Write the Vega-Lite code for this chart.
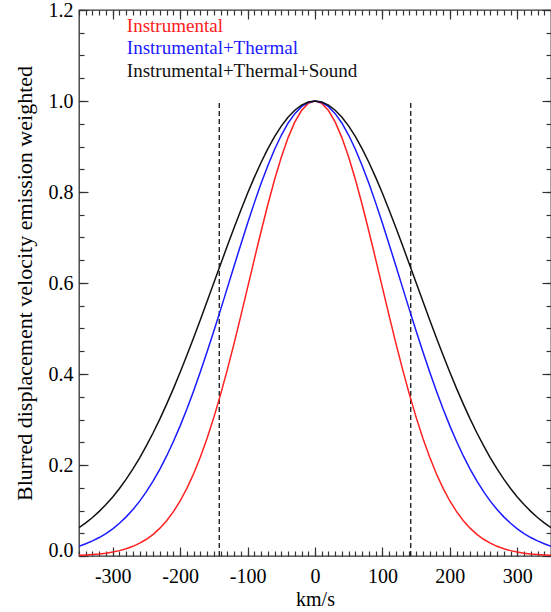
{
  "$schema": "https://vega.github.io/schema/vega-lite/v6.json",
  "width": 472,
  "height": 546,
  "autosize": {"type": "none"},
  "padding": {"left": 79, "top": 10, "right": 0, "bottom": 56},
  "background": "white",
  "config": {
    "view": {"stroke": "#333333", "strokeWidth": 1.3},
    "font": "Liberation Serif",
    "style": {"guide-label": {"font": "Liberation Serif"}, "guide-title": {"font": "Liberation Serif"}},
    "axis": {"grid": false, "domain": false, "labelFont": "Liberation Serif", "labelFontSize": 20, "labelColor": "black", "titleFont": "Liberation Serif", "titleFontWeight": "normal", "titleColor": "black", "tickColor": "#333333", "tickWidth": 1.2}
  },
  "datasets": {
    "curves": [
      {"kms": -350, "val": 0.0015, "series": "Instrumental"},
      {"kms": -340, "val": 0.0022, "series": "Instrumental"},
      {"kms": -330, "val": 0.0032, "series": "Instrumental"},
      {"kms": -320, "val": 0.0045, "series": "Instrumental"},
      {"kms": -310, "val": 0.0062, "series": "Instrumental"},
      {"kms": -300, "val": 0.0086, "series": "Instrumental"},
      {"kms": -290, "val": 0.0118, "series": "Instrumental"},
      {"kms": -280, "val": 0.0159, "series": "Instrumental"},
      {"kms": -270, "val": 0.0213, "series": "Instrumental"},
      {"kms": -260, "val": 0.0282, "series": "Instrumental"},
      {"kms": -250, "val": 0.0368, "series": "Instrumental"},
      {"kms": -240, "val": 0.0477, "series": "Instrumental"},
      {"kms": -230, "val": 0.0612, "series": "Instrumental"},
      {"kms": -220, "val": 0.0776, "series": "Instrumental"},
      {"kms": -210, "val": 0.0974, "series": "Instrumental"},
      {"kms": -200, "val": 0.1209, "series": "Instrumental"},
      {"kms": -190, "val": 0.1486, "series": "Instrumental"},
      {"kms": -180, "val": 0.1806, "series": "Instrumental"},
      {"kms": -170, "val": 0.2174, "series": "Instrumental"},
      {"kms": -160, "val": 0.2587, "series": "Instrumental"},
      {"kms": -150, "val": 0.3047, "series": "Instrumental"},
      {"kms": -140, "val": 0.3552, "series": "Instrumental"},
      {"kms": -130, "val": 0.4096, "series": "Instrumental"},
      {"kms": -120, "val": 0.4674, "series": "Instrumental"},
      {"kms": -110, "val": 0.5278, "series": "Instrumental"},
      {"kms": -100, "val": 0.5897, "series": "Instrumental"},
      {"kms": -90, "val": 0.6520, "series": "Instrumental"},
      {"kms": -80, "val": 0.7132, "series": "Instrumental"},
      {"kms": -70, "val": 0.7720, "series": "Instrumental"},
      {"kms": -60, "val": 0.8269, "series": "Instrumental"},
      {"kms": -50, "val": 0.8763, "series": "Instrumental"},
      {"kms": -40, "val": 0.9190, "series": "Instrumental"},
      {"kms": -30, "val": 0.9536, "series": "Instrumental"},
      {"kms": -20, "val": 0.9791, "series": "Instrumental"},
      {"kms": -10, "val": 0.9947, "series": "Instrumental"},
      {"kms": 0, "val": 1.0, "series": "Instrumental"},
      {"kms": 10, "val": 0.9947, "series": "Instrumental"},
      {"kms": 20, "val": 0.9791, "series": "Instrumental"},
      {"kms": 30, "val": 0.9536, "series": "Instrumental"},
      {"kms": 40, "val": 0.9190, "series": "Instrumental"},
      {"kms": 50, "val": 0.8763, "series": "Instrumental"},
      {"kms": 60, "val": 0.8269, "series": "Instrumental"},
      {"kms": 70, "val": 0.7720, "series": "Instrumental"},
      {"kms": 80, "val": 0.7132, "series": "Instrumental"},
      {"kms": 90, "val": 0.6520, "series": "Instrumental"},
      {"kms": 100, "val": 0.5897, "series": "Instrumental"},
      {"kms": 110, "val": 0.5278, "series": "Instrumental"},
      {"kms": 120, "val": 0.4674, "series": "Instrumental"},
      {"kms": 130, "val": 0.4096, "series": "Instrumental"},
      {"kms": 140, "val": 0.3552, "series": "Instrumental"},
      {"kms": 150, "val": 0.3047, "series": "Instrumental"},
      {"kms": 160, "val": 0.2587, "series": "Instrumental"},
      {"kms": 170, "val": 0.2174, "series": "Instrumental"},
      {"kms": 180, "val": 0.1806, "series": "Instrumental"},
      {"kms": 190, "val": 0.1486, "series": "Instrumental"},
      {"kms": 200, "val": 0.1209, "series": "Instrumental"},
      {"kms": 210, "val": 0.0974, "series": "Instrumental"},
      {"kms": 220, "val": 0.0776, "series": "Instrumental"},
      {"kms": 230, "val": 0.0612, "series": "Instrumental"},
      {"kms": 240, "val": 0.0477, "series": "Instrumental"},
      {"kms": 250, "val": 0.0368, "series": "Instrumental"},
      {"kms": 260, "val": 0.0282, "series": "Instrumental"},
      {"kms": 270, "val": 0.0213, "series": "Instrumental"},
      {"kms": 280, "val": 0.0159, "series": "Instrumental"},
      {"kms": 290, "val": 0.0118, "series": "Instrumental"},
      {"kms": 300, "val": 0.0086, "series": "Instrumental"},
      {"kms": 310, "val": 0.0062, "series": "Instrumental"},
      {"kms": 320, "val": 0.0045, "series": "Instrumental"},
      {"kms": 330, "val": 0.0032, "series": "Instrumental"},
      {"kms": 340, "val": 0.0022, "series": "Instrumental"},
      {"kms": 350, "val": 0.0015, "series": "Instrumental"},
      {"kms": -350, "val": 0.0216, "series": "Instrumental+Thermal"},
      {"kms": -340, "val": 0.0268, "series": "Instrumental+Thermal"},
      {"kms": -330, "val": 0.0331, "series": "Instrumental+Thermal"},
      {"kms": -320, "val": 0.0406, "series": "Instrumental+Thermal"},
      {"kms": -310, "val": 0.0494, "series": "Instrumental+Thermal"},
      {"kms": -300, "val": 0.0598, "series": "Instrumental+Thermal"},
      {"kms": -290, "val": 0.0719, "series": "Instrumental+Thermal"},
      {"kms": -280, "val": 0.0860, "series": "Instrumental+Thermal"},
      {"kms": -270, "val": 0.1021, "series": "Instrumental+Thermal"},
      {"kms": -260, "val": 0.1206, "series": "Instrumental+Thermal"},
      {"kms": -250, "val": 0.1414, "series": "Instrumental+Thermal"},
      {"kms": -240, "val": 0.1649, "series": "Instrumental+Thermal"},
      {"kms": -230, "val": 0.1910, "series": "Instrumental+Thermal"},
      {"kms": -220, "val": 0.2199, "series": "Instrumental+Thermal"},
      {"kms": -210, "val": 0.2516, "series": "Instrumental+Thermal"},
      {"kms": -200, "val": 0.2860, "series": "Instrumental+Thermal"},
      {"kms": -190, "val": 0.3231, "series": "Instrumental+Thermal"},
      {"kms": -180, "val": 0.3628, "series": "Instrumental+Thermal"},
      {"kms": -170, "val": 0.4048, "series": "Instrumental+Thermal"},
      {"kms": -160, "val": 0.4488, "series": "Instrumental+Thermal"},
      {"kms": -150, "val": 0.4945, "series": "Instrumental+Thermal"},
      {"kms": -140, "val": 0.5415, "series": "Instrumental+Thermal"},
      {"kms": -130, "val": 0.5893, "series": "Instrumental+Thermal"},
      {"kms": -120, "val": 0.6372, "series": "Instrumental+Thermal"},
      {"kms": -110, "val": 0.6848, "series": "Instrumental+Thermal"},
      {"kms": -100, "val": 0.7313, "series": "Instrumental+Thermal"},
      {"kms": -90, "val": 0.7761, "series": "Instrumental+Thermal"},
      {"kms": -80, "val": 0.8185, "series": "Instrumental+Thermal"},
      {"kms": -70, "val": 0.8578, "series": "Instrumental+Thermal"},
      {"kms": -60, "val": 0.8935, "series": "Instrumental+Thermal"},
      {"kms": -50, "val": 0.9247, "series": "Instrumental+Thermal"},
      {"kms": -40, "val": 0.9512, "series": "Instrumental+Thermal"},
      {"kms": -30, "val": 0.9722, "series": "Instrumental+Thermal"},
      {"kms": -20, "val": 0.9876, "series": "Instrumental+Thermal"},
      {"kms": -10, "val": 0.9969, "series": "Instrumental+Thermal"},
      {"kms": 0, "val": 1.0, "series": "Instrumental+Thermal"},
      {"kms": 10, "val": 0.9969, "series": "Instrumental+Thermal"},
      {"kms": 20, "val": 0.9876, "series": "Instrumental+Thermal"},
      {"kms": 30, "val": 0.9722, "series": "Instrumental+Thermal"},
      {"kms": 40, "val": 0.9512, "series": "Instrumental+Thermal"},
      {"kms": 50, "val": 0.9247, "series": "Instrumental+Thermal"},
      {"kms": 60, "val": 0.8935, "series": "Instrumental+Thermal"},
      {"kms": 70, "val": 0.8578, "series": "Instrumental+Thermal"},
      {"kms": 80, "val": 0.8185, "series": "Instrumental+Thermal"},
      {"kms": 90, "val": 0.7761, "series": "Instrumental+Thermal"},
      {"kms": 100, "val": 0.7313, "series": "Instrumental+Thermal"},
      {"kms": 110, "val": 0.6848, "series": "Instrumental+Thermal"},
      {"kms": 120, "val": 0.6372, "series": "Instrumental+Thermal"},
      {"kms": 130, "val": 0.5893, "series": "Instrumental+Thermal"},
      {"kms": 140, "val": 0.5415, "series": "Instrumental+Thermal"},
      {"kms": 150, "val": 0.4945, "series": "Instrumental+Thermal"},
      {"kms": 160, "val": 0.4488, "series": "Instrumental+Thermal"},
      {"kms": 170, "val": 0.4048, "series": "Instrumental+Thermal"},
      {"kms": 180, "val": 0.3628, "series": "Instrumental+Thermal"},
      {"kms": 190, "val": 0.3231, "series": "Instrumental+Thermal"},
      {"kms": 200, "val": 0.2860, "series": "Instrumental+Thermal"},
      {"kms": 210, "val": 0.2516, "series": "Instrumental+Thermal"},
      {"kms": 220, "val": 0.2199, "series": "Instrumental+Thermal"},
      {"kms": 230, "val": 0.1910, "series": "Instrumental+Thermal"},
      {"kms": 240, "val": 0.1649, "series": "Instrumental+Thermal"},
      {"kms": 250, "val": 0.1414, "series": "Instrumental+Thermal"},
      {"kms": 260, "val": 0.1206, "series": "Instrumental+Thermal"},
      {"kms": 270, "val": 0.1021, "series": "Instrumental+Thermal"},
      {"kms": 280, "val": 0.0860, "series": "Instrumental+Thermal"},
      {"kms": 290, "val": 0.0719, "series": "Instrumental+Thermal"},
      {"kms": 300, "val": 0.0598, "series": "Instrumental+Thermal"},
      {"kms": 310, "val": 0.0494, "series": "Instrumental+Thermal"},
      {"kms": 320, "val": 0.0406, "series": "Instrumental+Thermal"},
      {"kms": 330, "val": 0.0331, "series": "Instrumental+Thermal"},
      {"kms": 340, "val": 0.0268, "series": "Instrumental+Thermal"},
      {"kms": 350, "val": 0.0216, "series": "Instrumental+Thermal"},
      {"kms": -350, "val": 0.0622, "series": "Instrumental+Thermal+Sound"},
      {"kms": -340, "val": 0.0727, "series": "Instrumental+Thermal+Sound"},
      {"kms": -330, "val": 0.0847, "series": "Instrumental+Thermal+Sound"},
      {"kms": -320, "val": 0.0981, "series": "Instrumental+Thermal+Sound"},
      {"kms": -310, "val": 0.1132, "series": "Instrumental+Thermal+Sound"},
      {"kms": -300, "val": 0.1299, "series": "Instrumental+Thermal+Sound"},
      {"kms": -290, "val": 0.1485, "series": "Instrumental+Thermal+Sound"},
      {"kms": -280, "val": 0.1690, "series": "Instrumental+Thermal+Sound"},
      {"kms": -270, "val": 0.1915, "series": "Instrumental+Thermal+Sound"},
      {"kms": -260, "val": 0.2159, "series": "Instrumental+Thermal+Sound"},
      {"kms": -250, "val": 0.2424, "series": "Instrumental+Thermal+Sound"},
      {"kms": -240, "val": 0.2709, "series": "Instrumental+Thermal+Sound"},
      {"kms": -230, "val": 0.3014, "series": "Instrumental+Thermal+Sound"},
      {"kms": -220, "val": 0.3337, "series": "Instrumental+Thermal+Sound"},
      {"kms": -210, "val": 0.3679, "series": "Instrumental+Thermal+Sound"},
      {"kms": -200, "val": 0.4038, "series": "Instrumental+Thermal+Sound"},
      {"kms": -190, "val": 0.4411, "series": "Instrumental+Thermal+Sound"},
      {"kms": -180, "val": 0.4797, "series": "Instrumental+Thermal+Sound"},
      {"kms": -170, "val": 0.5193, "series": "Instrumental+Thermal+Sound"},
      {"kms": -160, "val": 0.5597, "series": "Instrumental+Thermal+Sound"},
      {"kms": -150, "val": 0.6004, "series": "Instrumental+Thermal+Sound"},
      {"kms": -140, "val": 0.6412, "series": "Instrumental+Thermal+Sound"},
      {"kms": -130, "val": 0.6817, "series": "Instrumental+Thermal+Sound"},
      {"kms": -120, "val": 0.7214, "series": "Instrumental+Thermal+Sound"},
      {"kms": -110, "val": 0.7601, "series": "Instrumental+Thermal+Sound"},
      {"kms": -100, "val": 0.7971, "series": "Instrumental+Thermal+Sound"},
      {"kms": -90, "val": 0.8322, "series": "Instrumental+Thermal+Sound"},
      {"kms": -80, "val": 0.8649, "series": "Instrumental+Thermal+Sound"},
      {"kms": -70, "val": 0.8948, "series": "Instrumental+Thermal+Sound"},
      {"kms": -60, "val": 0.9216, "series": "Instrumental+Thermal+Sound"},
      {"kms": -50, "val": 0.9449, "series": "Instrumental+Thermal+Sound"},
      {"kms": -40, "val": 0.9644, "series": "Instrumental+Thermal+Sound"},
      {"kms": -30, "val": 0.9798, "series": "Instrumental+Thermal+Sound"},
      {"kms": -20, "val": 0.9910, "series": "Instrumental+Thermal+Sound"},
      {"kms": -10, "val": 0.9977, "series": "Instrumental+Thermal+Sound"},
      {"kms": 0, "val": 1.0, "series": "Instrumental+Thermal+Sound"},
      {"kms": 10, "val": 0.9977, "series": "Instrumental+Thermal+Sound"},
      {"kms": 20, "val": 0.9910, "series": "Instrumental+Thermal+Sound"},
      {"kms": 30, "val": 0.9798, "series": "Instrumental+Thermal+Sound"},
      {"kms": 40, "val": 0.9644, "series": "Instrumental+Thermal+Sound"},
      {"kms": 50, "val": 0.9449, "series": "Instrumental+Thermal+Sound"},
      {"kms": 60, "val": 0.9216, "series": "Instrumental+Thermal+Sound"},
      {"kms": 70, "val": 0.8948, "series": "Instrumental+Thermal+Sound"},
      {"kms": 80, "val": 0.8649, "series": "Instrumental+Thermal+Sound"},
      {"kms": 90, "val": 0.8322, "series": "Instrumental+Thermal+Sound"},
      {"kms": 100, "val": 0.7971, "series": "Instrumental+Thermal+Sound"},
      {"kms": 110, "val": 0.7601, "series": "Instrumental+Thermal+Sound"},
      {"kms": 120, "val": 0.7214, "series": "Instrumental+Thermal+Sound"},
      {"kms": 130, "val": 0.6817, "series": "Instrumental+Thermal+Sound"},
      {"kms": 140, "val": 0.6412, "series": "Instrumental+Thermal+Sound"},
      {"kms": 150, "val": 0.6004, "series": "Instrumental+Thermal+Sound"},
      {"kms": 160, "val": 0.5597, "series": "Instrumental+Thermal+Sound"},
      {"kms": 170, "val": 0.5193, "series": "Instrumental+Thermal+Sound"},
      {"kms": 180, "val": 0.4797, "series": "Instrumental+Thermal+Sound"},
      {"kms": 190, "val": 0.4411, "series": "Instrumental+Thermal+Sound"},
      {"kms": 200, "val": 0.4038, "series": "Instrumental+Thermal+Sound"},
      {"kms": 210, "val": 0.3679, "series": "Instrumental+Thermal+Sound"},
      {"kms": 220, "val": 0.3337, "series": "Instrumental+Thermal+Sound"},
      {"kms": 230, "val": 0.3014, "series": "Instrumental+Thermal+Sound"},
      {"kms": 240, "val": 0.2709, "series": "Instrumental+Thermal+Sound"},
      {"kms": 250, "val": 0.2424, "series": "Instrumental+Thermal+Sound"},
      {"kms": 260, "val": 0.2159, "series": "Instrumental+Thermal+Sound"},
      {"kms": 270, "val": 0.1915, "series": "Instrumental+Thermal+Sound"},
      {"kms": 280, "val": 0.1690, "series": "Instrumental+Thermal+Sound"},
      {"kms": 290, "val": 0.1485, "series": "Instrumental+Thermal+Sound"},
      {"kms": 300, "val": 0.1299, "series": "Instrumental+Thermal+Sound"},
      {"kms": 310, "val": 0.1132, "series": "Instrumental+Thermal+Sound"},
      {"kms": 320, "val": 0.0981, "series": "Instrumental+Thermal+Sound"},
      {"kms": 330, "val": 0.0847, "series": "Instrumental+Thermal+Sound"},
      {"kms": 340, "val": 0.0727, "series": "Instrumental+Thermal+Sound"},
      {"kms": 350, "val": 0.0622, "series": "Instrumental+Thermal+Sound"}
    ],
    "markers": [
      {"kms": -142, "lo": 0, "hi": 1.0},
      {"kms": 142, "lo": 0, "hi": 1.0}
    ],
    "labels": [
      {"kms": -279, "val": 1.152, "series": "Instrumental"},
      {"kms": -279, "val": 1.103, "series": "Instrumental+Thermal"},
      {"kms": -279, "val": 1.053, "series": "Instrumental+Thermal+Sound"}
    ]
  },
  "resolve": {"axis": {"x": "independent", "y": "independent"}},
  "layer": [
    {
      "data": {"name": "markers"},
      "mark": {"type": "rule", "color": "black", "strokeWidth": 1.2, "strokeDash": [5, 3]},
      "encoding": {
        "x": {"field": "kms", "type": "quantitative", "scale": {"domain": [-350, 350], "nice": false, "zero": false},
          "axis": {"orient": "bottom", "values": [-300, -200, -100, 0, 100, 200, 300], "labels": false, "tickSize": -9, "title": null}},
        "y": {"field": "lo", "type": "quantitative", "scale": {"domain": [0, 1.2], "nice": false, "zero": false},
          "axis": {"orient": "left", "values": [0, 0.2, 0.4, 0.6, 0.8, 1.0, 1.2], "labels": false, "tickSize": -9, "title": null}},
        "y2": {"field": "hi"}
      }
    },
    {
      "data": {"name": "curves"},
      "mark": {"type": "line", "strokeWidth": 1.5, "clip": true},
      "encoding": {
        "x": {"field": "kms", "type": "quantitative",
          "axis": {"orient": "bottom", "values": [-300, -200, -100, 0, 100, 200, 300], "ticks": false, "labelPadding": 10, "labelFont": "Liberation Serif", "labelFontSize": 20, "labelExpr": "replace(datum.label, '\u2212', '-')", "title": "km/s", "titleFont": "Liberation Serif", "titleFontSize": 20, "titleFontWeight": "normal", "titlePadding": 3}},
        "y": {"field": "val", "type": "quantitative",
          "axis": {"orient": "left", "values": [0, 0.2, 0.4, 0.6, 0.8, 1.0, 1.2], "format": ".1f", "ticks": false, "labelPadding": 6, "labelFont": "Liberation Serif", "labelFontSize": 20, "labelOffset": {"condition": {"test": "datum.value === 0", "value": -6}, "value": 0}, "title": "Blurred displacement velocity emission weighted", "titleFont": "Liberation Serif", "titleFontSize": 22, "titleFontWeight": "normal", "titlePadding": 12}},
        "color": {"field": "series", "type": "nominal",
          "scale": {"domain": ["Instrumental", "Instrumental+Thermal", "Instrumental+Thermal+Sound"], "range": ["#ff2020", "#1a1aff", "#111111"]},
          "legend": null}
      }
    },
    {
      "data": {"name": "labels"},
      "mark": {"type": "text", "align": "left", "baseline": "alphabetic", "font": "Liberation Serif", "fontSize": 19},
      "encoding": {
        "x": {"field": "kms", "type": "quantitative",
          "axis": {"orient": "top", "values": [-300, -200, -100, 0, 100, 200, 300], "labels": false, "tickSize": -9, "title": null}},
        "y": {"field": "val", "type": "quantitative",
          "axis": {"orient": "right", "values": [0, 0.2, 0.4, 0.6, 0.8, 1.0, 1.2], "labels": false, "tickSize": -9, "title": null}},
        "text": {"field": "series"},
        "color": {"field": "series", "type": "nominal", "legend": null}
      }
    },
    {
      "data": {"name": "markers"},
      "mark": {"type": "point", "opacity": 0},
      "encoding": {
        "x": {"field": "kms", "type": "quantitative",
          "axis": {"orient": "bottom", "values": [-350, -340, -330, -320, -310, -300, -290, -280, -270, -260, -250, -240, -230, -220, -210, -200, -190, -180, -170, -160, -150, -140, -130, -120, -110, -100, -90, -80, -70, -60, -50, -40, -30, -20, -10, 0, 10, 20, 30, 40, 50, 60, 70, 80, 90, 100, 110, 120, 130, 140, 150, 160, 170, 180, 190, 200, 210, 220, 230, 240, 250, 260, 270, 280, 290, 300, 310, 320, 330, 340, 350], "labels": false, "tickSize": -5, "title": null}},
        "y": {"field": "lo", "type": "quantitative",
          "axis": {"orient": "left", "values": [0, 0.05, 0.1, 0.15, 0.2, 0.25, 0.3, 0.35, 0.4, 0.45, 0.5, 0.55, 0.6, 0.65, 0.7, 0.75, 0.8, 0.85, 0.9, 0.95, 1.0, 1.05, 1.1, 1.15, 1.2], "labels": false, "tickSize": -5, "title": null}}
      }
    },
    {
      "data": {"name": "markers"},
      "mark": {"type": "point", "opacity": 0},
      "encoding": {
        "x": {"field": "kms", "type": "quantitative",
          "axis": {"orient": "top", "values": [-350, -340, -330, -320, -310, -300, -290, -280, -270, -260, -250, -240, -230, -220, -210, -200, -190, -180, -170, -160, -150, -140, -130, -120, -110, -100, -90, -80, -70, -60, -50, -40, -30, -20, -10, 0, 10, 20, 30, 40, 50, 60, 70, 80, 90, 100, 110, 120, 130, 140, 150, 160, 170, 180, 190, 200, 210, 220, 230, 240, 250, 260, 270, 280, 290, 300, 310, 320, 330, 340, 350], "labels": false, "tickSize": -5, "title": null}},
        "y": {"field": "lo", "type": "quantitative",
          "axis": {"orient": "right", "values": [0, 0.05, 0.1, 0.15, 0.2, 0.25, 0.3, 0.35, 0.4, 0.45, 0.5, 0.55, 0.6, 0.65, 0.7, 0.75, 0.8, 0.85, 0.9, 0.95, 1.0, 1.05, 1.1, 1.15, 1.2], "labels": false, "tickSize": -5, "title": null}}
      }
    }
  ]
}
